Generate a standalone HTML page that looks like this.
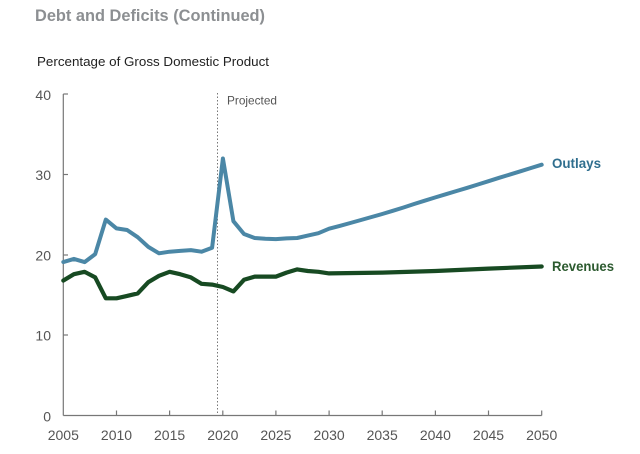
<!DOCTYPE html>
<html>
<head>
<meta charset="utf-8">
<style>
html,body{margin:0;padding:0;background:#fff;}
svg{display:block;}
text{font-family:"Liberation Sans",sans-serif;}
</style>
</head>
<body>
<svg width="640" height="454" viewBox="0 0 640 454" xmlns="http://www.w3.org/2000/svg">
<rect width="640" height="454" fill="#fff"/>
<text x="35" y="21" font-size="17" font-weight="bold" fill="#8c8f92" textLength="230" lengthAdjust="spacingAndGlyphs">Debt and Deficits (Continued)</text>
<text x="37" y="66" font-size="12.5" fill="#222" textLength="232" lengthAdjust="spacingAndGlyphs">Percentage of Gross Domestic Product</text>

<!-- axes -->
<g stroke="#777" stroke-width="1.2" fill="none">
<line x1="63.3" y1="94" x2="63.3" y2="415.5"/>
<line x1="63.3" y1="415.5" x2="541.7" y2="415.5"/>
<line x1="63.3" y1="94" x2="68" y2="94"/>
<line x1="63.3" y1="174.5" x2="68" y2="174.5"/>
<line x1="63.3" y1="255" x2="68" y2="255"/>
<line x1="63.3" y1="335" x2="68" y2="335"/>
<line x1="116.5" y1="415.5" x2="116.5" y2="410.5"/>
<line x1="169.6" y1="415.5" x2="169.6" y2="410.5"/>
<line x1="222.8" y1="415.5" x2="222.8" y2="410.5"/>
<line x1="275.9" y1="415.5" x2="275.9" y2="410.5"/>
<line x1="329.1" y1="415.5" x2="329.1" y2="410.5"/>
<line x1="382.2" y1="415.5" x2="382.2" y2="410.5"/>
<line x1="435.4" y1="415.5" x2="435.4" y2="410.5"/>
<line x1="488.5" y1="415.5" x2="488.5" y2="410.5"/>
<line x1="541.7" y1="415.5" x2="541.7" y2="410.5"/>
</g>

<!-- y labels -->
<g font-size="14" fill="#555" text-anchor="end">
<text x="51" y="100">40</text>
<text x="51" y="180">30</text>
<text x="51" y="260.5">20</text>
<text x="51" y="340.5">10</text>
<text x="51" y="421.5">0</text>
</g>
<!-- x labels -->
<g font-size="14" fill="#555" text-anchor="middle">
<text x="63.3" y="440">2005</text>
<text x="116.5" y="440">2010</text>
<text x="169.6" y="440">2015</text>
<text x="222.8" y="440">2020</text>
<text x="275.9" y="440">2025</text>
<text x="329.1" y="440">2030</text>
<text x="382.2" y="440">2035</text>
<text x="435.4" y="440">2040</text>
<text x="488.5" y="440">2045</text>
<text x="541.7" y="440">2050</text>
</g>

<!-- projected divider -->
<line x1="217.5" y1="93" x2="217.5" y2="415" stroke="#777" stroke-width="1" stroke-dasharray="1.5,2"/>
<text x="227" y="104.5" font-size="12" fill="#555" textLength="50" lengthAdjust="spacingAndGlyphs">Projected</text>

<!-- outlays -->
<polyline fill="none" stroke="#4b87a6" stroke-width="4" stroke-linejoin="round" stroke-linecap="round"
points="63.3,262.1 73.9,258.9 84.6,262.1 95.2,254.1 105.8,219.6 116.5,228.4 127.1,230.0 137.7,237.2 148.3,246.9 159.0,253.3 169.6,251.7 180.2,250.9 190.9,250.1 201.5,251.7 212.1,247.7 222.9,158.5 233.4,221.2 244.0,234.0 254.7,238.0 265.3,238.8 275.9,239.1 286.5,238.4 297.2,238.0 307.8,235.6 318.4,233.2 329.1,228.7 339.7,225.9 350.3,223.0 361.0,220.0 371.6,217.0 382.2,214.0 392.8,210.8 403.5,207.5 414.1,204.0 424.7,200.7 435.4,197.4 446.0,194.2 456.6,191.0 467.3,187.8 477.9,184.5 488.5,181.2 499.1,177.8 509.8,174.6 520.4,171.3 531.0,168.0 541.7,164.7"/>

<!-- revenues -->
<polyline fill="none" stroke="#174a22" stroke-width="4.2" stroke-linejoin="round" stroke-linecap="round"
points="63.3,280.6 73.9,274.2 84.6,271.8 95.2,277.4 105.8,298.3 116.5,298.3 127.1,295.9 137.7,293.4 148.3,282.2 159.0,275.8 169.6,271.8 180.2,274.2 190.9,277.4 201.5,283.8 212.1,284.6 222.9,287.0 233.4,291.4 244.0,279.8 254.7,276.6 265.3,276.6 275.9,276.6 286.5,272.6 297.2,269.4 307.8,271.0 318.4,271.8 329.1,273.4 382.2,272.6 435.4,271.0 488.5,268.6 541.7,266.5"/>

<text x="552" y="168" font-size="14" font-weight="bold" fill="#2f6e8e" textLength="49" lengthAdjust="spacingAndGlyphs">Outlays</text>
<text x="552" y="271" font-size="14" font-weight="bold" fill="#2c5a2f" textLength="62" lengthAdjust="spacingAndGlyphs">Revenues</text>
</svg>
</body>
</html>
